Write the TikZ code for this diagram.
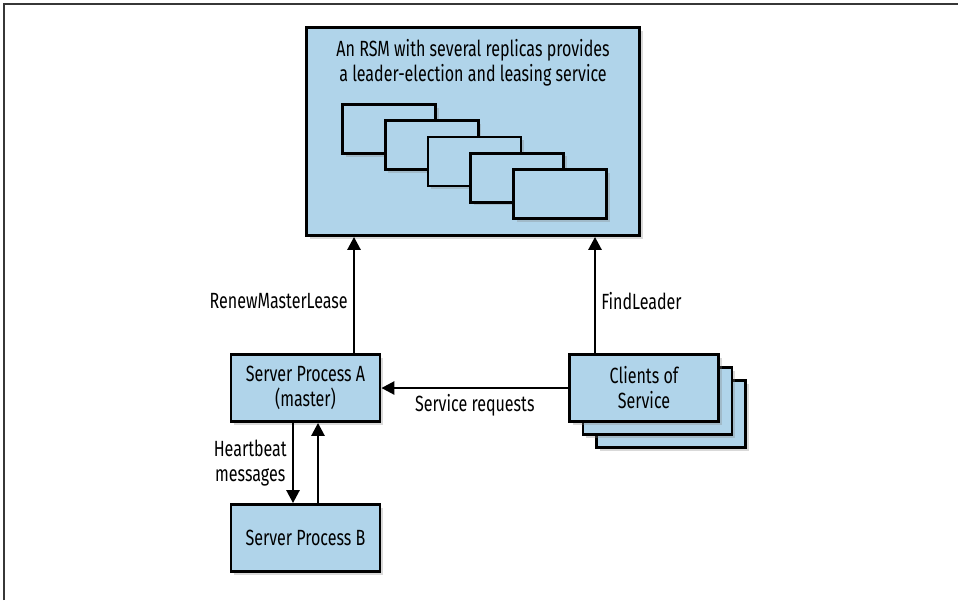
\documentclass[tikz,border=0pt]{standalone}
\usepackage{fontspec}
\setmainfont[FakeStretch=0.73]{Fira Sans}
\usetikzlibrary{positioning, arrows.meta, shadows, calc}
\definecolor{boxblue}{RGB}{176,212,234}
\definecolor{framegray}{RGB}{55,55,55}

\begin{document}
\begin{tikzpicture}[
    x=1pt, y=-1pt,
    font=\fontsize{22}{25}\selectfont,
    box/.style={draw, line width=2.8pt, fill=boxblue, rectangle, drop shadow={shadow xshift=3pt, shadow yshift=-3pt, opacity=0.3}},
    replica/.style={box, minimum width=93pt, minimum height=49pt},
    procbox/.style={box, minimum width=149pt, minimum height=67pt, align=center},
    arr/.style={-{Triangle[length=13pt, width=13pt]}, line width=2.6pt},
    lbl/.style={align=center, inner sep=5pt}
]
    \useasboundingbox (0,0) rectangle (958,600);
    % Page frame
    \draw[framegray, line width=1.6pt] (4,600) -- (4,4) -- (958,4);

    % RSM with its replicas
    \node[box, minimum width=333pt, minimum height=208pt] (rsm) at (473,131.5) {};
    \node[lbl, anchor=north] (rsmtitle) at ([yshift=-8pt]rsm.north) {An RSM with several replicas provides\\a leader-election and leasing service};
    \foreach \i in {1,...,5}
        \node[replica] (rep\i) at ({346.25+\i*42.75}, {112.75+\i*16.25}) {};

    % Server processes
    \node[procbox] (serverA) at (305.5,388) {Server Process A\\(master)};
    \node[procbox] (serverB) at (305.5,538) {Server Process B};

    % Clients (stacked)
    \coordinate (cpos) at (644,388);
    \foreach \i in {2,1}
        \node[procbox] (clients\i) at ($(cpos)+(\i*13.5,\i*13)$) {};
    \node[procbox] (clients) at (cpos) {Clients of\\Service};

    % Connectors
    \draw[arr] ([xshift=48.5pt]serverA.north) -- node[lbl, left, pos=0.45] {RenewMasterLease} ([xshift=48.5pt]serverA.north |- rsm.south);
    \draw[arr] ([xshift=-49pt]clients.north) -- node[lbl, right, pos=0.45] {FindLeader} ([xshift=-49pt]clients.north |- rsm.south);
    \draw[arr] (clients.west) -- node[lbl, below] {Service requests} (serverA.east);
    \draw[arr] ([xshift=-12.5pt]serverA.south) -- node[lbl, left] {Heartbeat\\messages} ([xshift=-12.5pt]serverB.north);
    \draw[arr] ([xshift=12.5pt]serverB.north) -- ([xshift=12.5pt]serverA.south);
\end{tikzpicture}
\end{document}
